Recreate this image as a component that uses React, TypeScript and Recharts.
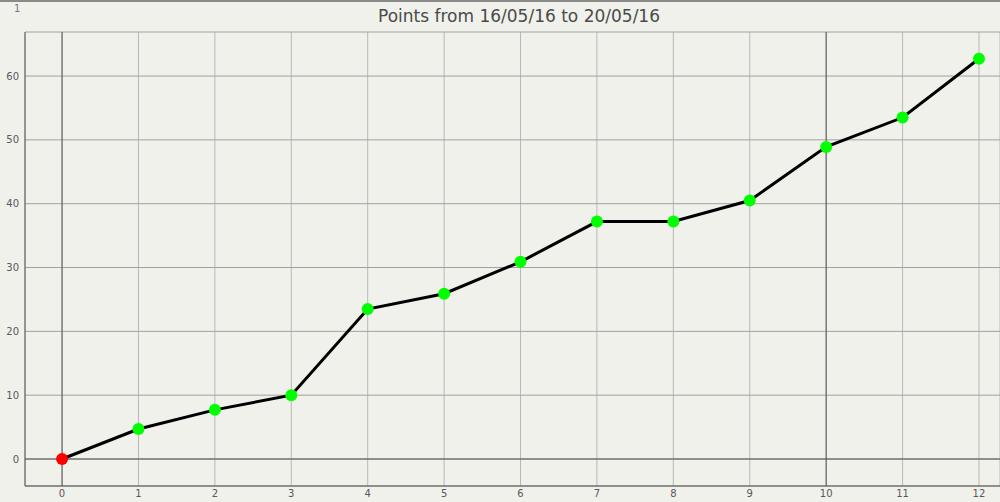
import { LineChart, Line, XAxis, YAxis, CartesianGrid, ReferenceLine } from "recharts";

const steps = [0, 1, 2, 3, 4, 5, 6, 7, 8, 9, 10, 11, 12];
const points = [0, 4.7, 7.7, 10.0, 23.5, 25.9, 30.9, 37.2, 37.2, 40.5, 48.9, 53.5, 62.7];
const yTicks = [0, 10, 20, 30, 40, 50, 60];

const data = steps.map((step, i) => ({ step, points: points[i] }));

const tickStyle = { fill: "#5a5560", fontSize: 10, fontFamily: "DejaVu Sans" };

function PointDot(props: any) {
  const { cx, cy, index } = props;
  return <circle key={index} cx={cx} cy={cy} r={6} fill={index === 0 ? "#ff0000" : "#00ff00"} />;
}

export default function App() {
  return (
    <div style={{ position: "fixed", left: 0, top: 0, width: 1000, height: 502, background: "#f1f1eb" }}>
      <div style={{ position: "absolute", left: 0, top: 0, width: 1000, height: 2, background: "#8a8a8a" }} />
      <div style={{ position: "absolute", left: 14, top: 3, fontSize: 10, color: "#7a7580", fontFamily: "DejaVu Sans" }}>1</div>
      <div
        style={{
          position: "absolute",
          left: 0,
          top: 6,
          width: 1038,
          textAlign: "center",
          fontSize: 17,
          color: "#4a4a4a",
          fontFamily: "DejaVu Sans",
        }}
      >
        Points from 16/05/16 to 20/05/16
      </div>
      <LineChart width={1000} height={502} data={data} margin={{ top: 32, right: 0, bottom: 0, left: 0 }}>
        <CartesianGrid horizontal={false} vertical stroke="#b8b8b8" />
        <CartesianGrid horizontal vertical={false} stroke="#a0a0a0" />
        <XAxis
          dataKey="step"
          type="number"
          domain={[-0.485, 12.275]}
          ticks={steps}
          allowDataOverflow
          height={16}
          tickSize={0}
          tickMargin={4}
          tick={tickStyle}
          axisLine={{ stroke: "#555" }}
          tickLine={false}
        />
        <YAxis
          type="number"
          domain={[-4.23, 66.9]}
          ticks={yTicks}
          allowDataOverflow
          width={25}
          tickSize={0}
          tickMargin={6}
          tick={tickStyle}
          axisLine={{ stroke: "#555" }}
          tickLine={false}
        />
        <ReferenceLine x={0} stroke="#555" />
        <ReferenceLine x={10} stroke="#555" />
        <ReferenceLine y={0} stroke="#555" />
        <Line
          dataKey="points"
          stroke="#000"
          strokeWidth={3}
          dot={PointDot}
          activeDot={false}
          isAnimationActive={false}
        />
      </LineChart>
    </div>
  );
}
